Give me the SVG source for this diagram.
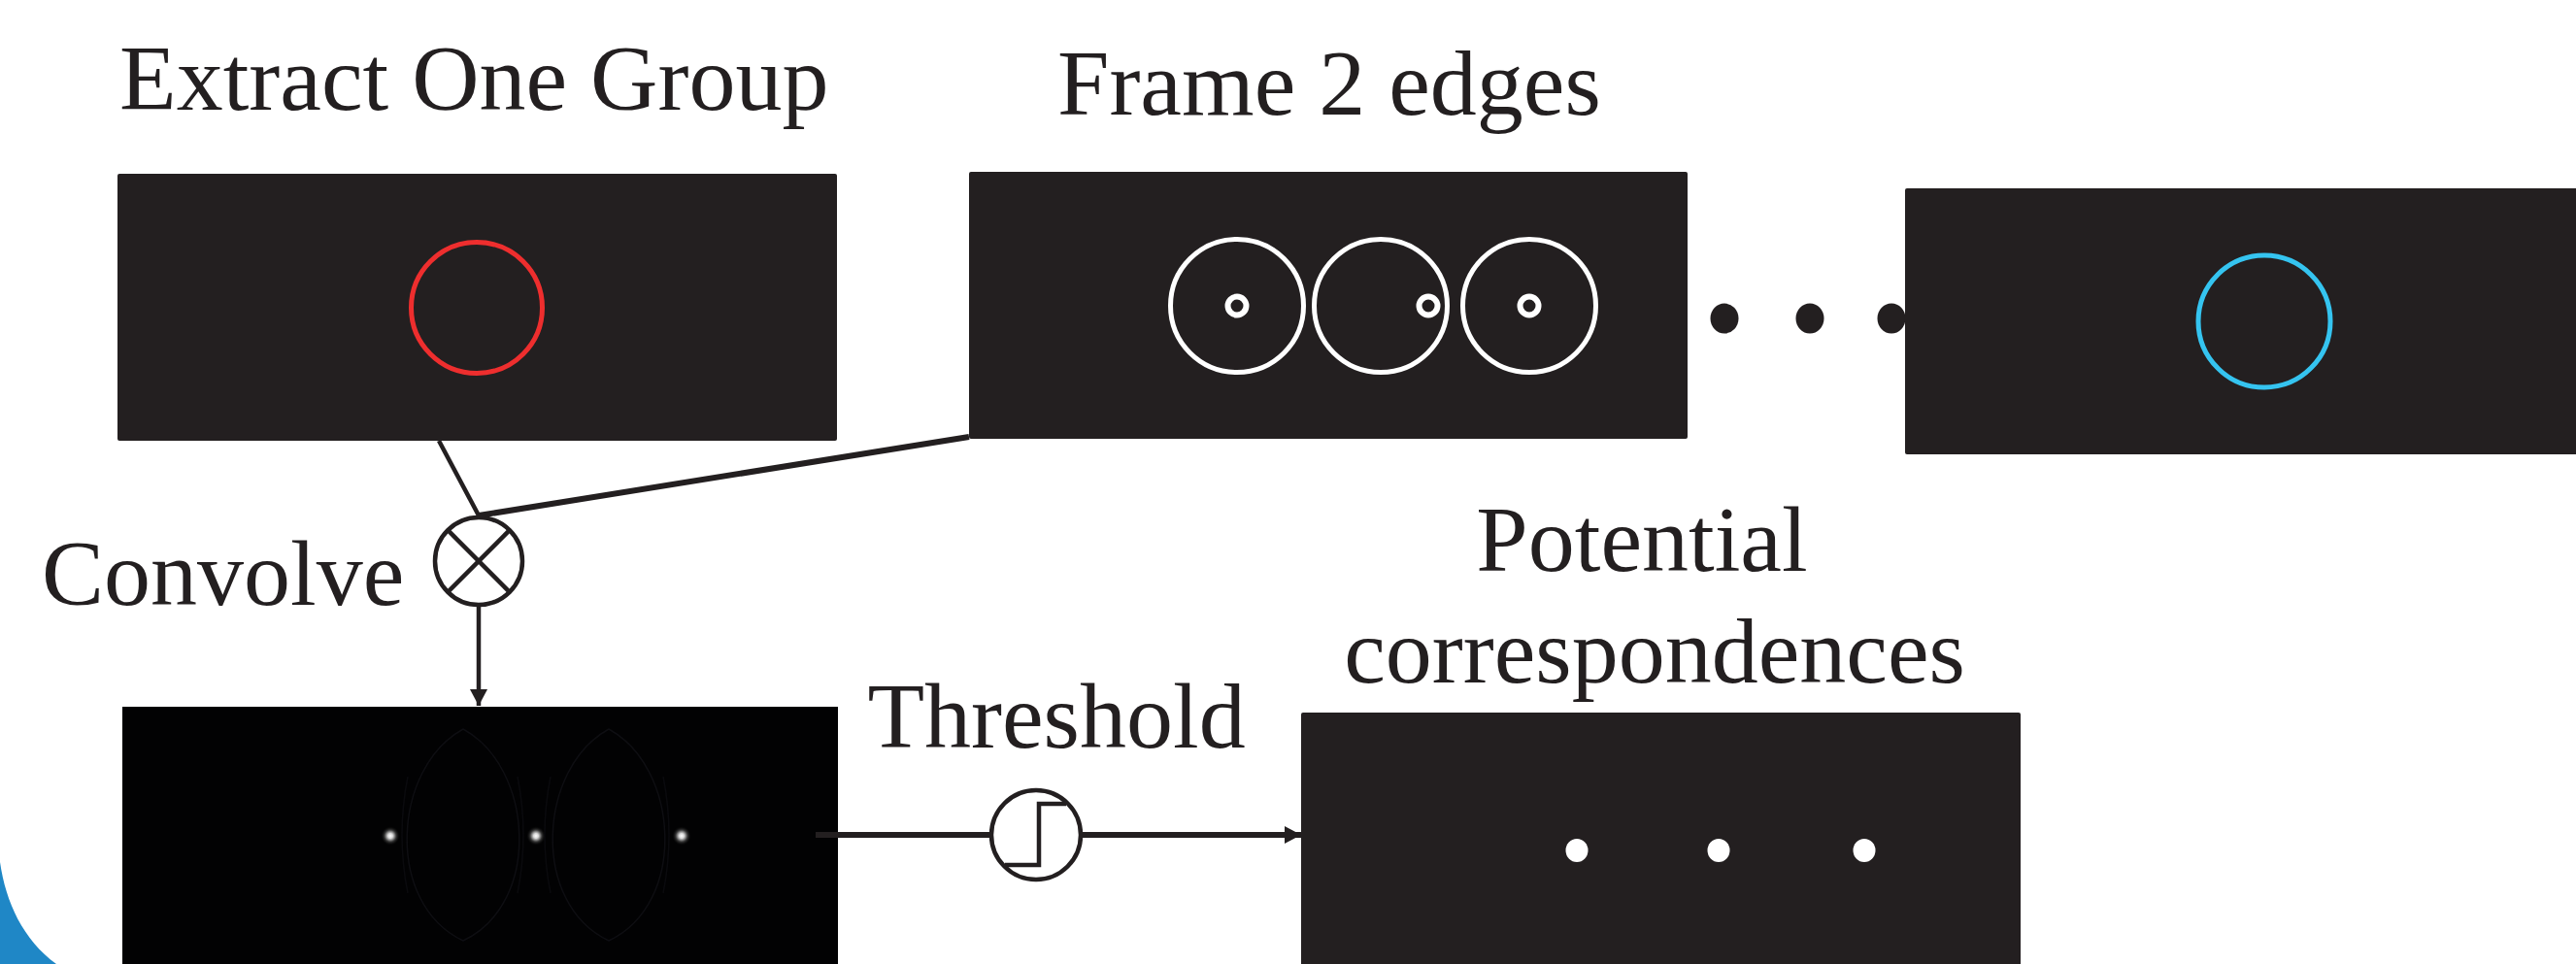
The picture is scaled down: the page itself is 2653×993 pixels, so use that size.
<svg xmlns="http://www.w3.org/2000/svg" width="2653" height="993" viewBox="0 0 2653 993">
<style>
.lbl{font-family:"Liberation Serif","Times New Roman",serif;font-size:96px;fill:#231F20}
.box{fill:#231F20}
.wring{fill:none;stroke:#FFFFFF;stroke-width:5}
.conn{fill:none;stroke:#231F20;stroke-linecap:butt}
.sym{fill:#FFFFFF;stroke:#231F20;stroke-width:4.5}
.faint{fill:none;stroke:#0e0e12;stroke-width:1.5}
.dot{fill:#231F20}
</style>
<defs>
<radialGradient id="spot">
<stop offset="0" stop-color="#FFFFFF"/>
<stop offset="0.25" stop-color="#d8d8d8"/>
<stop offset="0.6" stop-color="#3a3a3a"/>
<stop offset="1" stop-color="#000000" stop-opacity="0"/>
</radialGradient>
<marker id="arr" markerWidth="18" markerHeight="18" refX="17" refY="9" orient="auto" markerUnits="userSpaceOnUse">
<path d="M0,0 L17,9 L0,18 Z" fill="#231F20"/>
</marker>
</defs>
<rect width="2653" height="993" fill="#FFFFFF"/>
<path d="M0,888 C6,930 24,968 58,993 L0,993 Z" fill="#1F87C6"/>

<g id="label-extract"><text class="lbl" x="123" y="113">Extract One Group</text></g>
<g id="label-frame2"><text class="lbl" x="1089" y="118">Frame 2 edges</text></g>
<g id="label-convolve"><text class="lbl" x="43" y="623">Convolve</text></g>
<g id="label-threshold"><text class="lbl" x="1088" y="770" text-anchor="middle">Threshold</text></g>
<g id="label-potential"><text class="lbl" x="1691" y="588" text-anchor="middle">Potential</text><text class="lbl" x="1704" y="703" text-anchor="middle">correspondences</text></g>

<g id="extract-box">
<rect class="box" x="121" y="179" width="741" height="275" rx="2"/>
<circle cx="491" cy="317" r="67.5" fill="none" stroke="#EE2E2E" stroke-width="5"/>
</g>

<g id="frame2-box">
<rect class="box" x="998" y="177" width="740" height="275" rx="2"/>
<circle class="wring" cx="1274" cy="315" r="68.5"/>
<circle class="wring" cx="1422" cy="315" r="68.5"/>
<circle class="wring" cx="1575" cy="315" r="68.5"/>
<circle cx="1274" cy="315" r="9.5" fill="none" stroke="#FFFFFF" stroke-width="6"/>
<circle cx="1471" cy="315" r="9.5" fill="none" stroke="#FFFFFF" stroke-width="6"/>
<circle cx="1575" cy="315" r="9.5" fill="none" stroke="#FFFFFF" stroke-width="6"/>
</g>

<g id="ellipsis">
<ellipse class="dot" cx="1776" cy="328" rx="14.5" ry="15.5"/>
<ellipse class="dot" cx="1864" cy="328" rx="14.5" ry="15.5"/>
<ellipse class="dot" cx="1948" cy="328" rx="14.5" ry="15.5"/>
</g>

<g id="frame-n-box">
<rect class="box" x="1962" y="194" width="700" height="274" rx="2"/>
<circle cx="2332" cy="331" r="68" fill="none" stroke="#35C4F0" stroke-width="5"/>
</g>

<g id="convolve-op">
<circle class="sym" cx="493" cy="578" r="45"/>
<line x1="461.2" y1="546.2" x2="524.8" y2="609.8" stroke="#231F20" stroke-width="4.5"/>
<line x1="524.8" y1="546.2" x2="461.2" y2="609.8" stroke="#231F20" stroke-width="4.5"/>
</g>

<g id="correlation-box">
<rect x="126" y="728" width="737" height="280" fill="#020203"/>
<path class="faint" d="M477,751 C405,790 395,930 477,969 C559,930 549,790 477,751 Z"/>
<path class="faint" d="M627,751 C555,790 545,930 627,969 C709,930 699,790 627,751 Z"/>
<path class="faint" d="M420,800 Q408,860 420,920 M533,800 Q545,860 533,920 M567,800 Q555,860 567,920 M683,800 Q695,860 683,920" opacity="0.7"/>
<circle cx="402" cy="861" r="10" fill="url(#spot)"/>
<circle cx="552" cy="861" r="10" fill="url(#spot)"/>
<circle cx="702" cy="861" r="10" fill="url(#spot)"/>
</g>

<g id="threshold-op">
<circle class="sym" cx="1067" cy="860" r="46"/>
<polyline points="1035,891 1070,891 1070,828 1098,828" fill="none" stroke="#231F20" stroke-width="4.5"/>
</g>

<g id="potential-box">
<rect class="box" x="1340" y="734" width="741" height="280" rx="2"/>
<ellipse cx="1624" cy="876" rx="11.5" ry="12" fill="#FFFFFF"/>
<ellipse cx="1770" cy="876" rx="11.5" ry="12" fill="#FFFFFF"/>
<ellipse cx="1920" cy="876" rx="11.5" ry="12" fill="#FFFFFF"/>
</g>

<g id="connectors">
<line class="conn" x1="452" y1="454" x2="493" y2="531" stroke-width="4.5"/>
<line class="conn" x1="998" y1="450" x2="493" y2="531" stroke-width="6"/>
<line class="conn" x1="493" y1="625" x2="493" y2="727" stroke-width="4.5" marker-end="url(#arr)"/>
<line class="conn" x1="840" y1="860" x2="1020" y2="860" stroke-width="6"/>
<line class="conn" x1="1113" y1="860" x2="1340" y2="860" stroke-width="6" marker-end="url(#arr)"/>
</g>
</svg>
